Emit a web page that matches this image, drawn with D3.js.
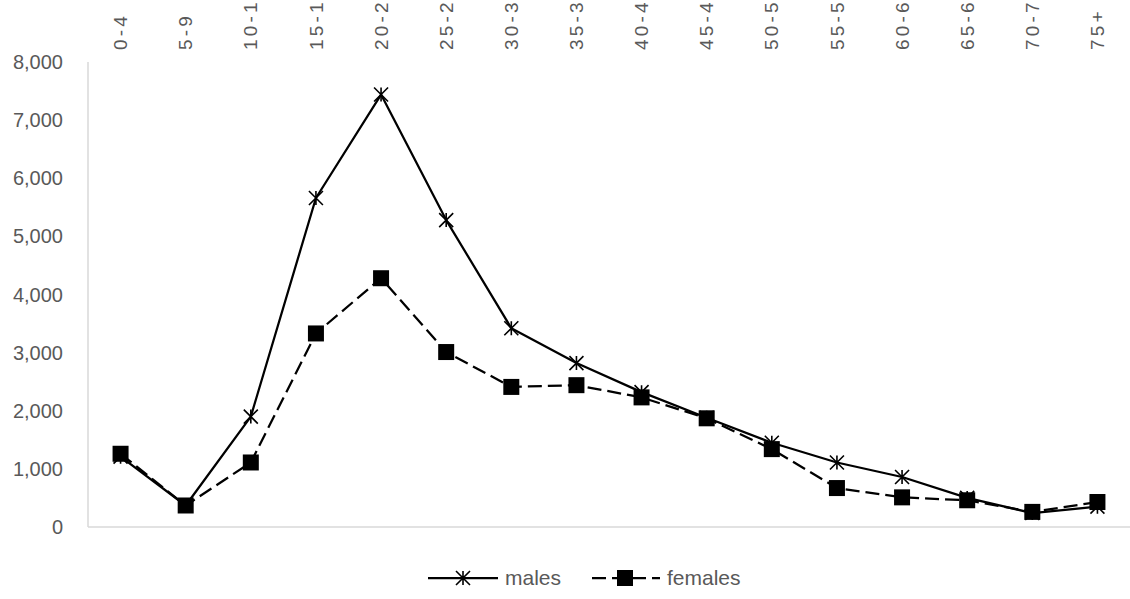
<!DOCTYPE html>
<html>
<head>
<meta charset="utf-8">
<script src="https://cdn.jsdelivr.net/npm/d3@7"></script>
<style>
  html, body { margin: 0; padding: 0; background: #fff; }
  svg { display: block; }
  text { font-family: "Liberation Sans", "DejaVu Sans", sans-serif; fill: #595959; }
</style>
</head>
<body>
<svg id="chart" width="1130" height="599"></svg>
<script>
const categories = ["0-4","5-9","10-14","15-19","20-24","25-29","30-34","35-39","40-44","45-49","50-54","55-59","60-64","65-69","70-74","75+"];
const males   = [1210, 370, 1900, 5660, 7440, 5280, 3420, 2820, 2320, 1880, 1450, 1110, 860, 500, 240, 350];
const females = [1260, 370, 1110, 3330, 4280, 3010, 2410, 2440, 2230, 1870, 1340, 670, 510, 460, 260, 430];
const yTicks  = [0, 1000, 2000, 3000, 4000, 5000, 6000, 7000, 8000];
const seriesNames = ["males", "females"];

const svg = d3.select("#chart");
const plotL = 88, plotR = 1130, plotT = 62, plotB = 527;

const x = d3.scalePoint().domain(categories).range([plotL, plotR]).padding(0.5);
const y = d3.scaleLinear().domain([0, 8000]).range([plotB, plotT]);

// axis lines
svg.append("line").attr("x1", plotL).attr("x2", plotL).attr("y1", plotT).attr("y2", plotB)
  .attr("stroke", "#d9d9d9").attr("stroke-width", 1.5);
svg.append("line").attr("x1", plotL).attr("x2", plotR).attr("y1", plotB).attr("y2", plotB)
  .attr("stroke", "#d9d9d9").attr("stroke-width", 1.5);

// y tick labels
const fmt = d3.format(",");
svg.append("g").selectAll("text").data(yTicks).join("text")
  .attr("x", 63).attr("y", d => y(d)).attr("dy", "0.35em")
  .attr("text-anchor", "end").attr("font-size", 20)
  .text(d => fmt(d));

// x labels (rotated, at top; the reference shows them clipped to 4 characters)
svg.append("g").selectAll("text").data(categories).join("text")
  .attr("transform", d => `translate(${x(d)},50) rotate(-90)`)
  .attr("text-anchor", "start").attr("dy", "0.35em")
  .attr("font-size", 19).attr("letter-spacing", "3.2px")
  .text(d => d.slice(0, 4));

const line = d3.line().x((d, i) => x(categories[i])).y(d => y(d));

function star(g, cx, cy, s) {
  const r = s / 2;
  g.append("path")
    .attr("d", `M${cx - r},${cy - r}L${cx + r},${cy + r}M${cx - r},${cy + r}L${cx + r},${cy - r}M${cx},${cy - r}L${cx},${cy + r}`)
    .attr("stroke", "#000").attr("stroke-width", 1.6).attr("fill", "none");
}

const dash = "14,6";

// males
svg.append("path").datum(males).attr("d", line)
  .attr("fill", "none").attr("stroke", "#000").attr("stroke-width", 2.25).attr("stroke-linejoin", "round");
const mg = svg.append("g");
males.forEach((v, i) => star(mg, x(categories[i]), y(v), 14));

// females
svg.append("path").datum(females).attr("d", line)
  .attr("fill", "none").attr("stroke", "#000").attr("stroke-width", 2.25)
  .attr("stroke-dasharray", dash);
svg.append("g").selectAll("rect").data(females).join("rect")
  .attr("x", (d, i) => x(categories[i]) - 8).attr("y", d => y(d) - 8)
  .attr("width", 16).attr("height", 16).attr("fill", "#000");

// legend
const ly = 578;
const lg = svg.append("g");
lg.append("line").attr("x1", 428).attr("x2", 498).attr("y1", ly).attr("y2", ly)
  .attr("stroke", "#000").attr("stroke-width", 2.25);
star(lg, 463, ly, 14);
lg.append("text").attr("x", 505).attr("y", ly).attr("dy", "0.35em").attr("font-size", 21).text(seriesNames[0]);
lg.append("line").attr("x1", 592).attr("x2", 660).attr("y1", ly).attr("y2", ly)
  .attr("stroke", "#000").attr("stroke-width", 2.25).attr("stroke-dasharray", dash);
lg.append("rect").attr("x", 625 - 8).attr("y", ly - 8).attr("width", 16).attr("height", 16).attr("fill", "#000");
lg.append("text").attr("x", 667).attr("y", ly).attr("dy", "0.35em").attr("font-size", 21).text(seriesNames[1]);
</script>
</body>
</html>
